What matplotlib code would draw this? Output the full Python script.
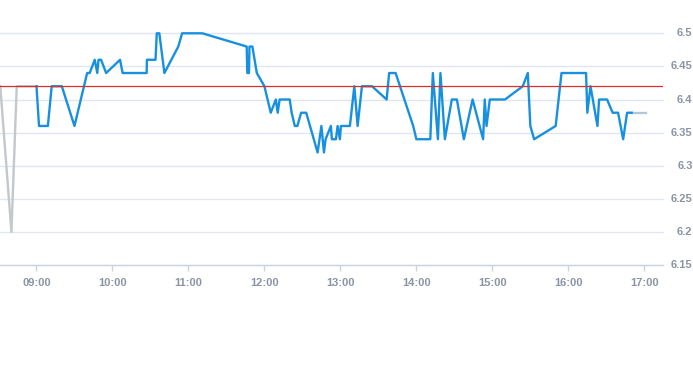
import matplotlib
matplotlib.use("Agg")
import matplotlib.pyplot as plt

plt.rcParams["font.family"] = ["Liberation Sans", "DejaVu Sans"]

# minutes after 09:00
pre_t = [-28.6, -19.8, -15.6, 0]
pre_v = [6.42, 6.20, 6.42, 6.42]

main_t = [0, 2, 9, 12, 20, 30, 40, 42, 46, 48, 49, 51, 55, 66, 68, 87, 87.2, 94, 95, 97,
          101, 112, 115, 131, 166, 166.5, 167.8, 168.2, 170.5, 174, 180, 185, 189, 190.5, 192, 200,
          201.5, 204, 206, 209, 213, 222, 225, 227, 228.3, 232.5, 233.3, 236.5, 237.8, 239.6,
          240.4, 247.5, 251, 253.6, 257, 265, 276.5, 278.5, 283.6, 297.5, 300, 311, 313, 317,
          319, 322.5, 328, 332, 337.5, 344.4, 352.7, 354, 355.4, 358, 370, 384, 388, 390, 393,
          410, 414.6, 434, 435, 437.5, 443, 444.3, 450.6, 455, 459.3, 463.3, 466.4, 470]
main_v = [6.42, 6.36, 6.36, 6.42, 6.42, 6.36, 6.44, 6.44, 6.46, 6.44, 6.46, 6.46, 6.44, 6.46, 6.44, 6.44, 6.46, 6.46, 6.50, 6.50,
          6.44, 6.48, 6.50, 6.50, 6.48, 6.44, 6.44, 6.48, 6.48, 6.44, 6.42, 6.38, 6.40, 6.38, 6.40, 6.40,
          6.38, 6.36, 6.36, 6.38, 6.38, 6.32, 6.36, 6.32, 6.34, 6.36, 6.34, 6.34, 6.36, 6.34,
          6.36, 6.36, 6.42, 6.36, 6.42, 6.42, 6.40, 6.44, 6.44, 6.36, 6.34, 6.34, 6.44, 6.34,
          6.44, 6.34, 6.40, 6.40, 6.34, 6.40, 6.34, 6.40, 6.36, 6.40, 6.40, 6.42, 6.44, 6.36, 6.34,
          6.36, 6.44, 6.44, 6.38, 6.42, 6.36, 6.40, 6.40, 6.38, 6.38, 6.34, 6.38, 6.38]

post_t = [470, 481]
post_v = [6.38, 6.38]

ref_price = 6.42

x_ticks = [0, 60, 120, 180, 240, 300, 360, 420, 480]
x_labels = ["09:00", "10:00", "11:00", "12:00", "13:00", "14:00", "15:00", "16:00", "17:00"]
y_ticks = [6.15, 6.2, 6.25, 6.3, 6.35, 6.4, 6.45, 6.5]
y_labels = ["6.15", "6.2", "6.25", "6.3", "6.35", "6.4", "6.45", "6.5"]

W, H = 693, 365
fig = plt.figure(figsize=(W / 100, H / 100), dpi=100)
x0, x1 = 0, 663
y_top, y_bot = 33.3, 265
ax = fig.add_axes([x0 / W, (H - y_bot) / H, (x1 - x0) / W, (y_bot - y_top) / H])

xmin = -36.5 * 60 / 76
xmax = 480 + (663 - 644.3) * 60 / 76
ax.set_xlim(xmin, xmax)
ax.set_ylim(6.15, 6.5)

for s in ax.spines.values():
    s.set_visible(False)

for yv in y_ticks:
    ax.axhline(yv, color="#e0e6f1", lw=1, zorder=0, clip_on=False)
ax.axhline(6.15, color="#ccd3de", lw=1, zorder=1, clip_on=False)

lab_col = "#8a94a4"
ax.plot(pre_t, pre_v, color="#c2c8cd", lw=1.7, zorder=3, solid_joinstyle="round")
ax.plot(main_t, main_v, color="#1890e0", lw=1.7, zorder=4, clip_on=False, solid_joinstyle="round")
ax.plot(post_t, post_v, color="#b3c7d9", lw=1.7, zorder=3)
ax.axhline(ref_price, color="#d9302c", lw=0.9, zorder=5)

ax.set_xticks(x_ticks)
ax.set_xticklabels(x_labels, fontweight="bold")
ax.tick_params(axis="x", length=4, width=1, color="#ccd3de", labelcolor=lab_col,
               labelsize=8, pad=5)
ax.set_yticks([])

for yv, lab in zip(y_ticks, y_labels):
    yp = ax.transData.transform((0, yv))[1]
    fig.text(692.5 / W, yp / H, lab, ha="right", va="center", color=lab_col,
             fontsize=8, fontweight="bold")

fig.savefig("out.png", dpi=100)
